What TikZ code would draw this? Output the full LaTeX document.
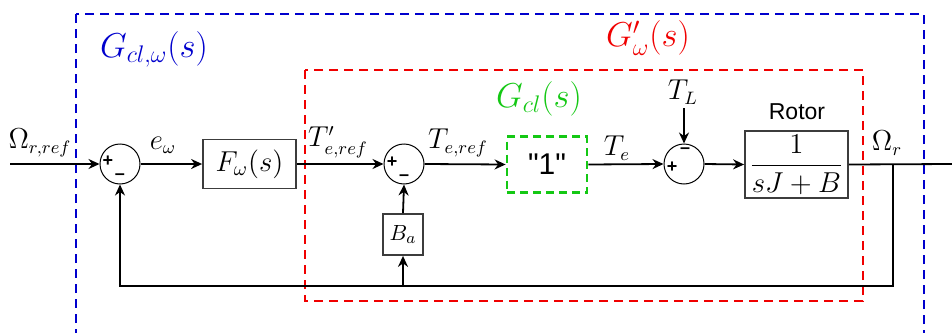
\documentclass[tikz,border=0pt]{standalone}
\usepackage{fontspec}
\newfontfamily\sansf{Liberation Sans}
\usetikzlibrary{arrows.meta}
\definecolor{bl}{RGB}{0,0,205}
\definecolor{rd}{RGB}{240,0,0}
\definecolor{gr}{RGB}{20,200,20}
\definecolor{bx}{RGB}{60,60,60}
\begin{document}
\begin{tikzpicture}[x=0.5pt,y=-0.5pt,
  sig/.style={line width=0.9pt,-{Stealth[length=5.5pt,width=5pt]}},
  wire/.style={line width=0.9pt},
  blk/.style={draw=bx,line width=0.9pt,inner sep=0pt,fill=white},
  sumnode/.style={circle,draw,line width=0.5pt,minimum size=20pt,inner sep=0pt},
  lab/.style={font=\fontsize{13.5}{15}\selectfont,inner sep=1pt},
  big/.style={font=\fontsize{17}{20}\selectfont,inner sep=1pt},
  sgn/.style={font=\sansf\bfseries\fontsize{9}{10}\selectfont,inner sep=0pt},
  frame/.style={dashed,line width=1.4pt,dash pattern=on 4.5pt off 3pt}
]
\useasboundingbox (0,0) rectangle (952,332);
\clip (0,0) rectangle (952,332);
% frames
\draw[frame,draw=bl] (76,14) rectangle (924,345);
\draw[frame,draw=rd] (305,70) rectangle (863,301);
\node[big,text=bl] (gclw) at (154,49) {$G_{cl,\omega}(s)$};
\node[big,text=rd] (gw) at (648,38) {$G'_{\omega}(s)$};
\node[big,text=gr] (gcl) at (539,99) {$G_{cl}(s)$};
% blocks
\node[sumnode] (s1) at (120,164) {};
\node[blk,minimum width=46.5pt,minimum height=24.5pt] (F) at (249.5,164) {\fontsize{14}{16}\selectfont$F_{\omega}(s)$};
\node[sumnode] (s2) at (404,164) {};
\node[draw=gr,dashed,dash pattern=on 4pt off 2.5pt,line width=1.4pt,minimum width=40pt,minimum height=28pt,inner sep=0pt] (one) at (547,164.5) {\sansf\fontsize{15}{17}\selectfont "1"};
\node[sumnode] (s3) at (684,164) {};
\node[blk,minimum width=51.5pt,minimum height=33.5pt] (rot) at (796.5,164.5) {\fontsize{13.5}{15}\selectfont$\displaystyle\frac{1}{sJ+B}$};
\node[blk,minimum width=20pt,minimum height=20.5pt] (Ba) at (403,234.5) {\fontsize{11}{13}\selectfont$B_a$};
% signs
\node[sgn] (p1) at (108,161) {+};
\node[sgn] (m1) at (120,177) {\textendash};
\node[sgn] (p2) at (392,162) {+};
\node[sgn] (m2) at (404,178) {\textendash};
\node[sgn] (p3) at (672,167) {+};
\node[sgn] (m3) at (685,151) {\textendash};
% coordinates
\coordinate (in) at (10,164);
\coordinate (out) at (952,164);
\coordinate (br) at (893,164);
\coordinate (c1) at (893,286);
\coordinate (c2) at (120,286);
\coordinate (c3) at (403,286);
\coordinate (tl) at (684,108);
% labels
\node[lab] (lref) at (40,143) {$\Omega_{r,ref}$};
\node[lab] (le) at (163,145) {$e_{\omega}$};
\node[lab] (lter) at (338,142) {$T'_{e,ref}$};
\node[lab] (lte) at (458,143) {$T_{e,ref}$};
\node[lab] (ltee) at (617,148) {$T_{e}$};
\node[lab] (ltl) at (683,92) {$T_{L}$};
\node[font=\sansf\fontsize{11.5}{13}\selectfont] (lrot) at (797,112) {Rotor};
\node[lab] (lom) at (887,143) {$\Omega_{r}$};
% connectors
\draw[sig] (in) -- (s1.west);
\draw[sig] (s1.east) -- (F.west);
\draw[sig] (F.east) -- (s2.west);
\draw[sig] (s2.east) -- (one.west);
\draw[sig] (one.east) -- (s3.west);
\draw[sig] (tl) -- (s3.north);
\draw[sig] (s3.east) -- (rot.west);
\draw[wire] (rot.east) -- (out);
\draw[sig] (br) -- (c1) -- (c2) -- (s1.south);
\draw[sig] (c3) -- (Ba.south);
\draw[sig] (Ba.north) -- (s2.south);
\end{tikzpicture}
\end{document}
